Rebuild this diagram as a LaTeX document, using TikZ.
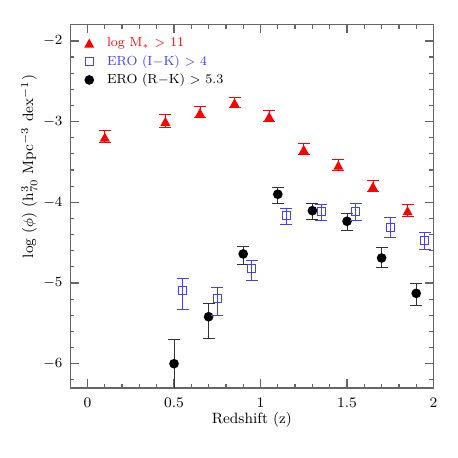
\documentclass[tikz,border=0pt]{standalone}
\usepackage{amsmath}
\usepackage{amssymb}
\definecolor{eroblue}{RGB}{64,64,255}

\begin{document}
\begin{tikzpicture}[x=3.46cm, y=1.614cm,
    axisline/.style={black!60, line width=0.7pt},
    errbar/.style={line width=0.5pt},
    ticklabel/.style={inner sep=0pt, font=\fontsize{8.3}{10}\selectfont},
    axislabel/.style={inner sep=0pt, font=\fontsize{8.5}{10}\selectfont},
    legendtext/.style={inner sep=0pt, anchor=base west, font=\fontsize{7.5}{9}\selectfont}]
\useasboundingbox (-0.5058,-7.1685) rectangle (2.1416,-1.4932);
% frame
\draw[axisline] (-0.1,-6.3) rectangle (2,-1.8);
% ticks on x
\foreach \k in {0,...,20} {
    \draw[axisline] ({\k/10-0.1},-6.3) -- ++(0,0.085cm);
    \draw[axisline] ({\k/10-0.1},-1.8) -- ++(0,-0.085cm);
}
\foreach \x in {0,0.5,1,1.5,2} {
    \draw[axisline] (\x,-6.3) -- ++(0,0.17cm);
    \draw[axisline] (\x,-1.8) -- ++(0,-0.17cm);
    \node[ticklabel, anchor=base] (xt\x) at (\x,-6.54) {\x};
}
% ticks on y
\foreach \k in {0,...,21} {
    \draw[axisline] (-0.1,{-6.2+\k/5}) -- ++(0.085cm,0);
    \draw[axisline] (2,{-6.2+\k/5}) -- ++(-0.085cm,0);
}
\foreach \y in {-6,...,-2} {
    \draw[axisline] (-0.1,\y) -- ++(0.17cm,0);
    \draw[axisline] (2,\y) -- ++(-0.17cm,0);
    \node[ticklabel, anchor=east] (yt\y) at ([xshift=-0.15cm]-0.1,\y) {$\y$};
}
% axis labels
\node[axislabel, anchor=base] (xlab) at (0.95,-6.738) {Redshift (z)};
\node[axislabel, rotate=90] (ylab) at (-0.336,-3.556)
    {log ($\phi$) (h$^3_{70}$ Mpc$^{-3}$ dex$^{-1}$)};

\begin{scope}
\clip (-0.1,-6.3) rectangle (2,-1.8);
% log M* > 11
\foreach \x/\y/\t/\b in {0.1/-3.185/-3.113/-3.257, 0.45/-2.991/-2.906/-3.076,
    0.65/-2.883/-2.815/-2.952, 0.85/-2.761/-2.699/-2.823, 1.05/-2.929/-2.865/-2.993,
    1.25/-3.338/-3.274/-3.401, 1.45/-3.534/-3.467/-3.600, 1.65/-3.796/-3.727/-3.864,
    1.85/-4.098/-4.025/-4.170} {
    \draw[red, errbar] (\x,\t) -- (\x,\b);
    \draw[red, errbar] (\x,\t) ++(-0.12cm,0) -- ++(0.24cm,0);
    \draw[red, errbar] (\x,\b) ++(-0.12cm,0) -- ++(0.24cm,0);
    \fill[red] (\x,\y) ++(0,0.08cm) -- ++(-0.1cm,-0.18cm) -- ++(0.2cm,0) -- cycle;
}
% ERO (R-K) > 5.3
\foreach \x/\y/\t/\b in {0.5/-6.0/-5.694/-6.45, 0.7/-5.418/-5.25/-5.685,
    0.9/-4.64/-4.541/-4.768, 1.1/-3.90/-3.819/-4.009, 1.3/-4.104/-4.017/-4.211,
    1.5/-4.235/-4.141/-4.347, 1.7/-4.69/-4.558/-4.81, 1.9/-5.128/-5.004/-5.273} {
    \draw[black!80, errbar] (\x,\t) -- (\x,\b);
    \draw[black!80, errbar] (\x,\t) ++(-0.12cm,0) -- ++(0.24cm,0);
    \draw[black!80, errbar] (\x,\b) ++(-0.12cm,0) -- ++(0.24cm,0);
    \fill (\x,\y) circle (0.097cm);
}
% ERO (I-K) > 4
\foreach \x/\y/\t/\b in {0.55/-5.095/-4.947/-5.326, 0.75/-5.195/-5.053/-5.40,
    0.95/-4.818/-4.715/-4.963, 1.15/-4.161/-4.079/-4.277, 1.35/-4.108/-4.03/-4.223,
    1.55/-4.108/-4.017/-4.223, 1.75/-4.315/-4.19/-4.43, 1.95/-4.471/-4.368/-4.587} {
    \draw[eroblue, errbar] (\x,\t) -- (\x,\b);
    \draw[eroblue, errbar] (\x,\t) ++(-0.12cm,0) -- ++(0.24cm,0);
    \draw[eroblue, errbar] (\x,\b) ++(-0.12cm,0) -- ++(0.24cm,0);
    \draw[eroblue, errbar] (\x,\y) ++(-0.08cm,-0.08cm) rectangle ++(0.16cm,0.16cm);
}
\end{scope}

% legend
\fill[red] (0.01,-2.022) ++(0,0.08cm) -- ++(-0.1cm,-0.18cm) -- ++(0.2cm,0) -- cycle;
\node[legendtext, red] (legmass) at (0.111,-2.067) {log M$_*$ $>$ 11};
\draw[eroblue, errbar] (0.01,-2.258) ++(-0.08cm,-0.08cm) rectangle ++(0.16cm,0.16cm);
\node[legendtext, eroblue] (legik) at (0.111,-2.303) {ERO (I$-$K) $>$ 4};
\fill (0.01,-2.484) circle (0.097cm);
\node[legendtext] (legrk) at (0.111,-2.529) {ERO (R$-$K) $>$ 5.3};
\end{tikzpicture}
\end{document}
